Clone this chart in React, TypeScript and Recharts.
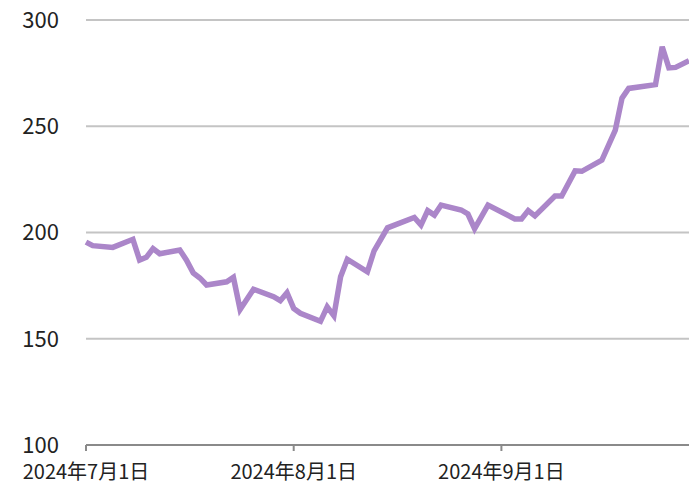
import { LineChart, Line, XAxis, YAxis, CartesianGrid } from 'recharts';

// days since 2024-07-01
const days = [
  0, 1, 4, 7, 8, 9, 10, 11, 14, 15, 16, 17, 18, 21, 22, 23, 25, 28, 29, 30,
  31, 32, 35, 36, 37, 38, 39, 42, 43, 45, 49, 50, 51, 52, 53, 56, 57, 58, 60,
  64, 65, 66, 67, 70, 71, 73, 74, 77, 79, 80, 81, 85, 86, 87, 88, 90,
];
const prices = [
  195.5, 193.8, 193, 196.8, 187, 188.3, 192.4, 190, 191.8, 187, 181, 178.6, 175.3, 176.8, 178.9, 163.8, 173.3, 169.8, 167.9, 171.7,
  164.3, 162, 158.2, 165, 160.8, 179.2, 187.4, 181.5, 191.4, 202.2, 207.1, 203.5, 210.3, 208.2, 212.9, 210.6, 208.7, 201.8, 212.9,
  206.4, 206.4, 210.3, 207.8, 217.2, 217.2, 229, 228.8, 234.1, 248.2, 263.2, 267.8, 269.6, 287.4, 277.5, 277.7, 280.8,
];
const xTicks = [0, 31, 62];
const xTickLabels = ['2024年7月1日', '2024年8月1日', '2024年9月1日'];
const yTicks = [100, 150, 200, 250, 300];

const data = days.map((d, i) => ({ day: d, price: prices[i] }));

const font = '"Noto Sans CJK JP", "Noto Sans", sans-serif';

export default function App() {
  return (
    <div style={{ position: 'absolute', left: 0, top: 0, fontFamily: font }}>
      <LineChart width={689} height={486} data={data} margin={{ top: 20, right: 0, bottom: 0, left: 0 }}>
        <CartesianGrid horizontal vertical={false} stroke="#c4c4c4" strokeWidth={2} />
        <XAxis
          dataKey="day"
          type="number"
          domain={[0, 90]}
          ticks={xTicks}
          tickFormatter={(v: number) => xTickLabels[xTicks.indexOf(v)] ?? ''}
          height={41}
          stroke="#8a8a8a"
          strokeWidth={2}
          tickSize={6}
          tickMargin={14}
          tick={{ fill: '#222', fontSize: 20, fontFamily: font }}
          interval={0}
        />
        <YAxis
          domain={[100, 300]}
          ticks={yTicks}
          width={86}
          axisLine={false}
          tickLine={false}
          tickMargin={21}
          tick={{ fill: '#222', fontSize: 22, fontFamily: font }}
        />
        <Line
          type="linear"
          dataKey="price"
          stroke="#ab86c9"
          strokeWidth={5.5}
          dot={false}
          isAnimationActive={false}
        />
      </LineChart>
    </div>
  );
}
